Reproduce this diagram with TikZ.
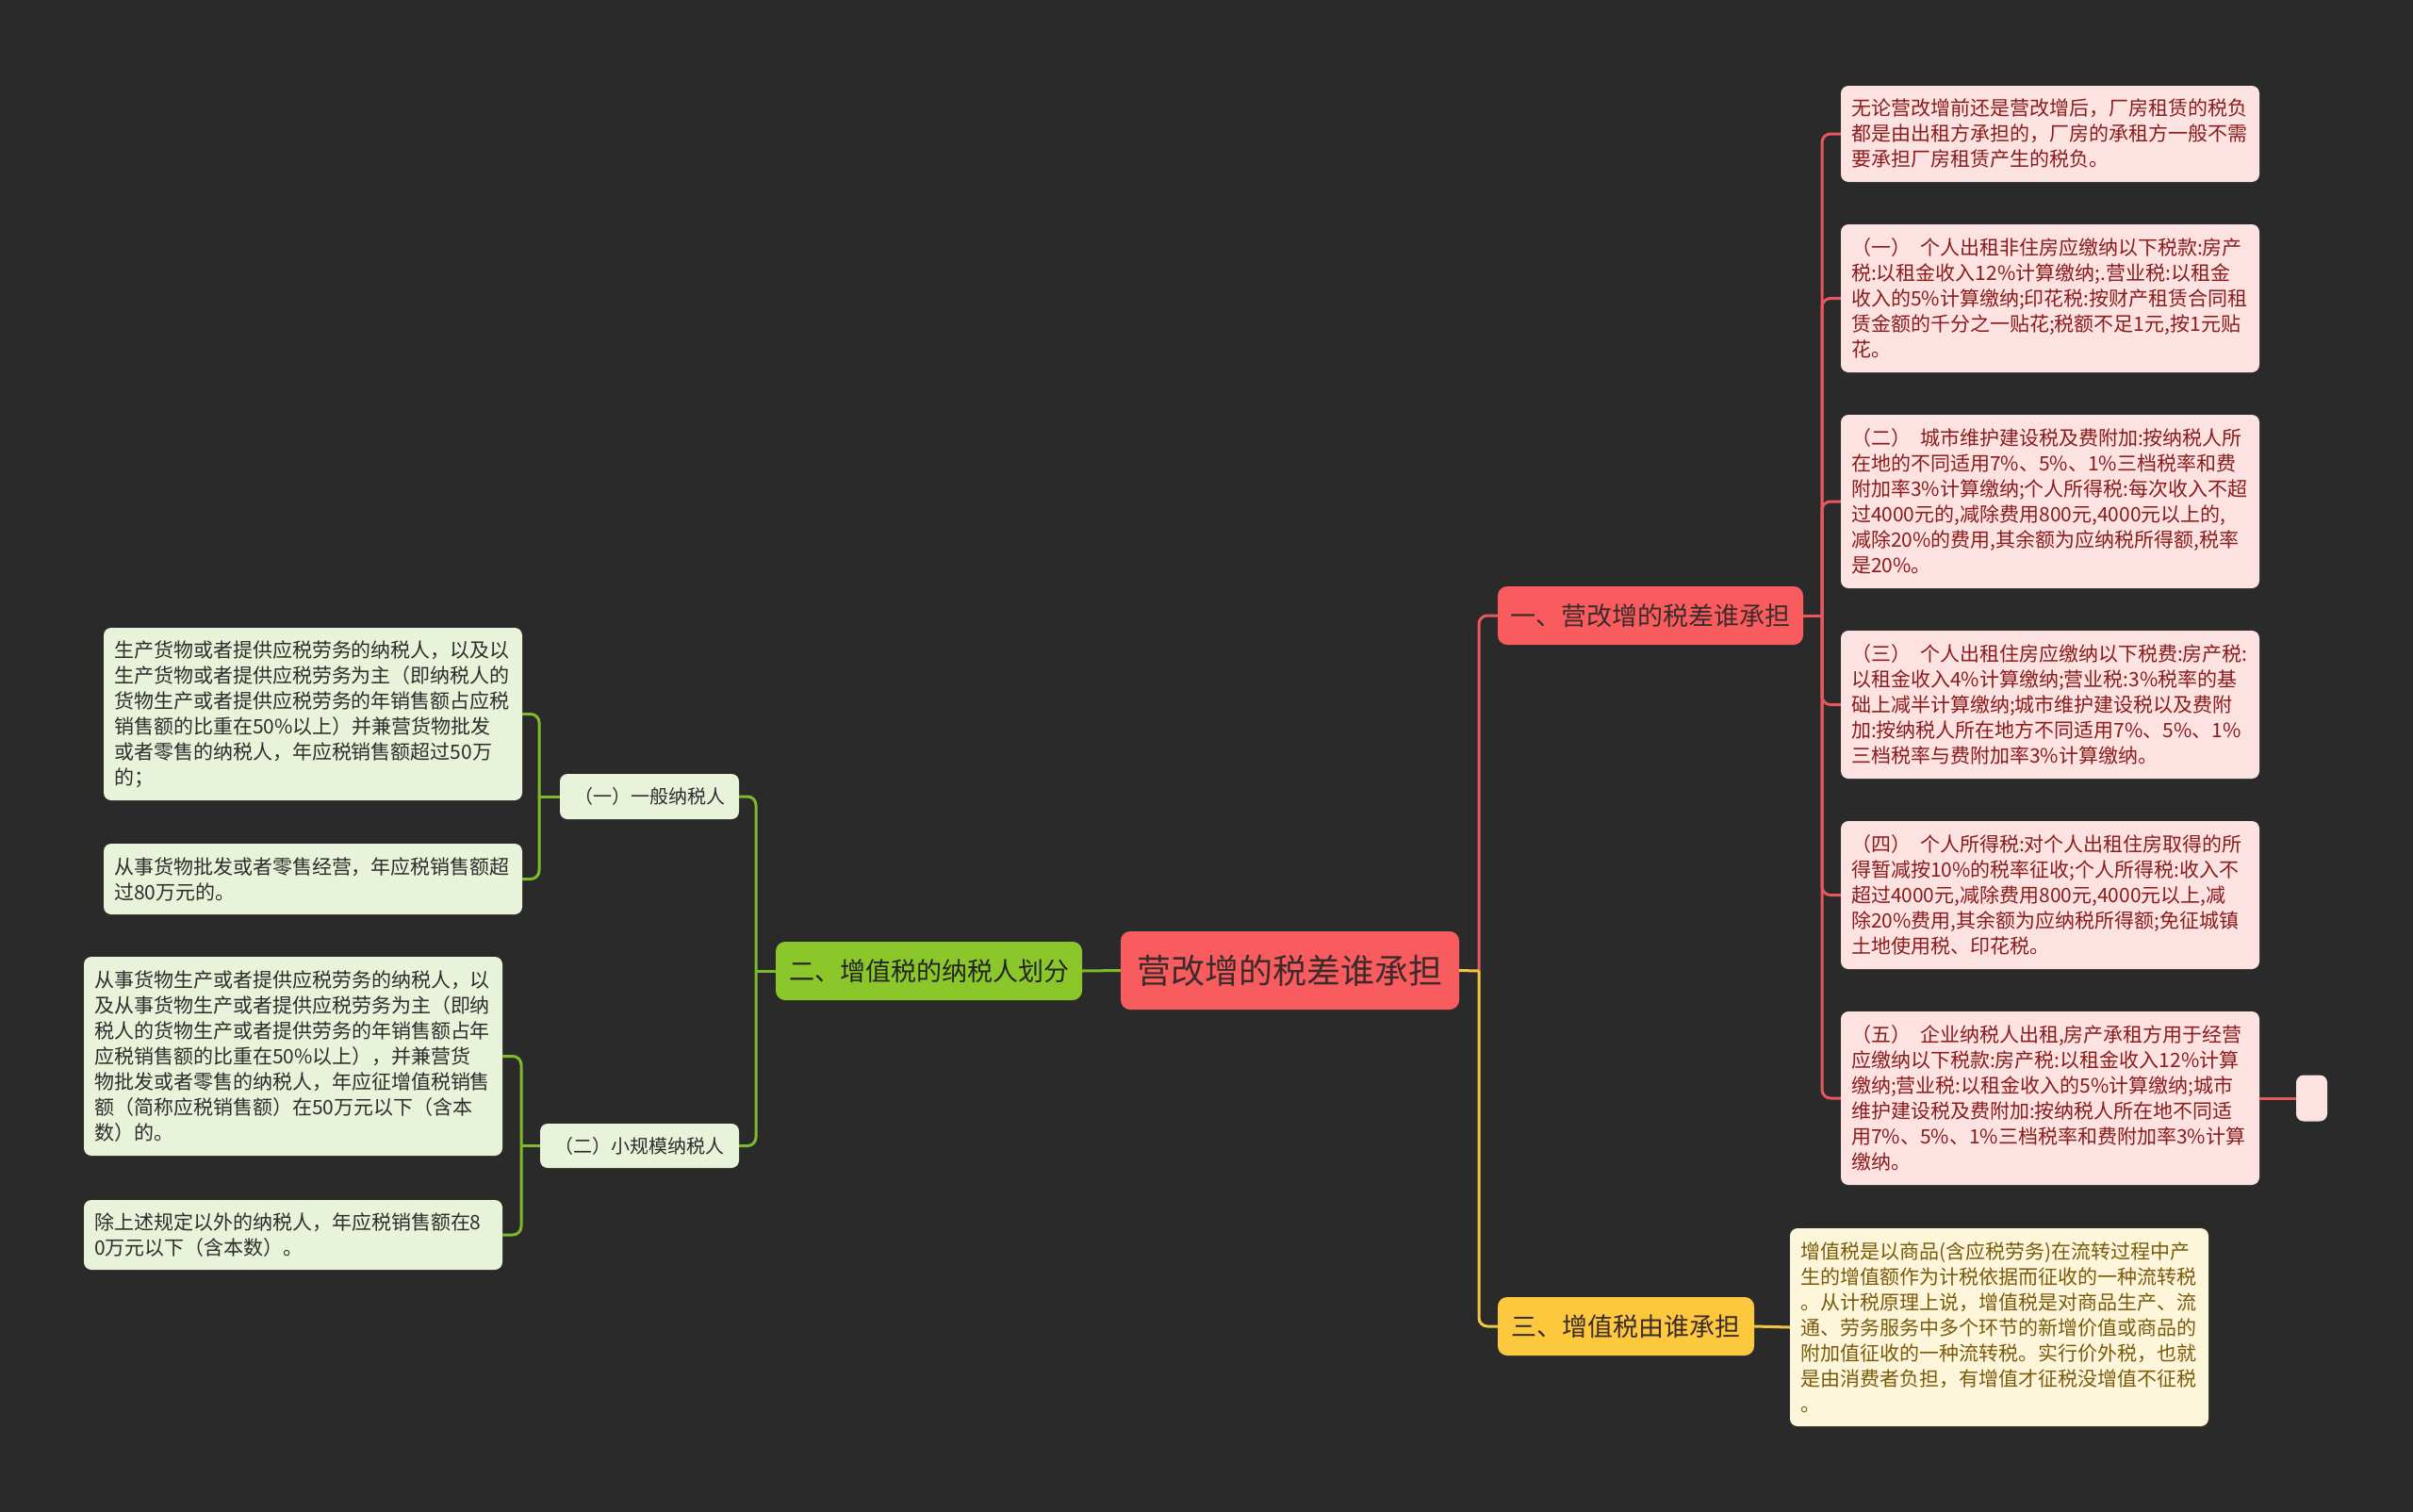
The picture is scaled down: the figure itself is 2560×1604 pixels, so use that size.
\documentclass[tikz,border=0pt]{standalone}
\usepackage{fontspec}
\newfontfamily\cjk{Noto Sans CJK SC}
\definecolor{bgc}{HTML}{2A2A2A}
\definecolor{redmain}{HTML}{F95C5F}
\definecolor{redline}{HTML}{E8575C}
\definecolor{pinkleaf}{HTML}{FDE2E2}
\definecolor{pinktext}{HTML}{8A1C1C}
\definecolor{greenmain}{HTML}{8BC72B}
\definecolor{greenline}{HTML}{7DBB2A}
\definecolor{greenleaf}{HTML}{E9F3DA}
\definecolor{greentext}{HTML}{2D2D2D}
\definecolor{yellowmain}{HTML}{FCC93E}
\definecolor{yellowline}{HTML}{F2C440}
\definecolor{yellowleaf}{HTML}{FEF6DA}
\definecolor{yellowtext}{HTML}{7A5B0C}
\definecolor{maintext}{HTML}{3D2B2B}
\begin{document}
\begin{tikzpicture}[x=1pt,y=-1pt,
  base/.style={inner sep=0pt, rounded corners=8pt, font=\cjk},
  mainbox/.style={base, rounded corners=10pt, minimum height=62, align=center,
    font=\cjk\fontsize{27}{32}\selectfont},
  leafbox/.style={base, inner xsep=11pt, text width=422pt, align=left,
    font=\cjk\fontsize{21}{27}\selectfont},
  pleaf/.style={leafbox, fill=pinkleaf, text=pinktext},
  gleaf/.style={leafbox, fill=greenleaf, text=greentext},
  yleaf/.style={leafbox, fill=yellowleaf, text=yellowtext},
  gsub/.style={base, fill=greenleaf, text=greentext, minimum height=48, align=center,
    font=\cjk\fontsize{20}{24}\selectfont},
  rl/.style={draw=redline, line width=3pt, rounded corners=9pt},
  gl/.style={draw=greenline, line width=3pt, rounded corners=9pt},
  yl/.style={draw=yellowline, line width=3pt, rounded corners=9pt}
]
\useasboundingbox (0,0) rectangle (2560,1604);
\fill[bgc] (0,0) rectangle (2560,1604);

% central
\node[base, rounded corners=10pt, fill=redmain, text=maintext, minimum width=359, minimum height=83,
  font=\cjk\fontsize{36}{40}\selectfont] (c) at (1368.5,1029.5) {营改增的税差谁承担};

% main branches
\node[mainbox, fill=greenmain, text=greentext!80!black, minimum width=325] (g0) at (985.5,1030) {二、增值税的纳税人划分};
\node[mainbox, fill=redmain, text=maintext, minimum width=324] (r0) at (1751,653) {一、营改增的税差谁承担};
\node[mainbox, fill=yellowmain, text=maintext, minimum width=272] (y0) at (1725,1407) {三、增值税由谁承担};

% green subs
\node[gsub, minimum width=190] (ga) at (689,845) {（一）一般纳税人};
\node[gsub, minimum width=211, minimum height=47] (gb) at (678.5,1215.5) {（二）小规模纳税人};

% green leaves
\node[gleaf, minimum height=183] (gl1) at (332,757.5) {生产货物或者提供应税劳务的纳税人，以及以\\生产货物或者提供应税劳务为主（即纳税人的\\货物生产或者提供应税劳务的年销售额占应税\\销售额的比重在50\%以上）并兼营货物批发\\或者零售的纳税人，年应税销售额超过50万\\的；};
\node[gleaf, minimum height=75] (gl2) at (332,932.5) {从事货物批发或者零售经营，年应税销售额超\\过80万元的。};
\node[gleaf, minimum height=211] (gl3) at (311,1120.5) {从事货物生产或者提供应税劳务的纳税人，以\\及从事货物生产或者提供应税劳务为主（即纳\\税人的货物生产或者提供劳务的年销售额占年\\应税销售额的比重在50\%以上），并兼营货\\物批发或者零售的纳税人，年应征增值税销售\\额（简称应税销售额）在50万元以下（含本\\数）的。};
\node[gleaf, minimum height=74] (gl4) at (311,1310) {除上述规定以外的纳税人，年应税销售额在8\\0万元以下（含本数）。};

% pink leaves
\node[pleaf, minimum height=102] (p1) at (2175,142) {无论营改增前还是营改增后，厂房租赁的税负\\都是由出租方承担的，厂房的承租方一般不需\\要承担厂房租赁产生的税负。};
\node[pleaf, minimum height=157] (p2) at (2175,316.5) {（一）\kern10pt 个人出租非住房应缴纳以下税款:房产\\税:以租金收入12\%计算缴纳;.营业税:以租金\\收入的5\%计算缴纳;印花税:按财产租赁合同租\\赁金额的千分之一贴花;税额不足1元,按1元贴\\花。};
\node[pleaf, minimum height=184] (p3) at (2175,532) {（二）\kern10pt 城市维护建设税及费附加:按纳税人所\\在地的不同适用7\%、5\%、1\%三档税率和费\\附加率3\%计算缴纳;个人所得税:每次收入不超\\过4000元的,减除费用800元,4000元以上的,\\减除20\%的费用,其余额为应纳税所得额,税率\\是20\%。};
\node[pleaf, minimum height=157] (p4) at (2175,747.5) {（三）\kern10pt 个人出租住房应缴纳以下税费:房产税:\\以租金收入4\%计算缴纳;营业税:3\%税率的基\\础上减半计算缴纳;城市维护建设税以及费附\\加:按纳税人所在地方不同适用7\%、5\%、1\%\\三档税率与费附加率3\%计算缴纳。};
\node[pleaf, minimum height=157] (p5) at (2175,949.5) {（四）\kern10pt 个人所得税:对个人出租住房取得的所\\得暂减按10\%的税率征收;个人所得税:收入不\\超过4000元,减除费用800元,4000元以上,减\\除20\%费用,其余额为应纳税所得额;免征城镇\\土地使用税、印花税。};
\node[pleaf, minimum height=184] (p6) at (2175,1165) {（五）\kern10pt 企业纳税人出租,房产承租方用于经营\\应缴纳以下税款:房产税:以租金收入12\%计算\\缴纳;营业税:以租金收入的5\%计算缴纳;城市\\维护建设税及费附加:按纳税人所在地不同适\\用7\%、5\%、1\%三档税率和费附加率3\%计算\\缴纳。};
\node[base, fill=pinkleaf, minimum width=33, minimum height=49] (pe) at (2452.5,1165) {};

% yellow leaf
\node[yleaf, minimum height=210] (y1) at (2121,1408) {增值税是以商品(含应税劳务)在流转过程中产\\生的增值额作为计税依据而征收的一种流转税\\。从计税原理上说，增值税是对商品生产、流\\通、劳务服务中多个环节的新增价值或商品的\\附加值征收的一种流转税。实行价外税，也就\\是由消费者负担，有增值才征税没增值不征税\\。};

% trunk points
\coordinate (gt) at (802,1030);
\coordinate (gat) at (572,845);
\coordinate (gbt) at (553,1215.5);
\coordinate (ct) at (1569,1030);
\coordinate (rt) at (1933,653);

% green connectors
\draw[gl] (c.west) -- (g0.east);
\draw[gl] (g0.west) -- (gt);
\draw[gl] (gt) |- (ga.east);
\draw[gl] (gt) |- (gb.east);
\draw[gl] (ga.west) -- (gat);
\draw[gl] (gat) |- (gl1.east);
\draw[gl] (gat) |- (gl2.east);
\draw[gl] (gb.west) -- (gbt);
\draw[gl] (gbt) |- (gl3.east);
\draw[gl] (gbt) |- (gl4.east);

% red connectors
\draw[rl] (ct) |- (r0.west);
\draw[rl] (r0.east) -- (rt);
\foreach \p in {p1,p2,p3,p4,p5,p6} { \draw[rl] (rt) |- (\p.west); }
\draw[rl] (p6.east) -- (pe.west);

% yellow connectors
\draw[yl] (c.east) -- (ct);
\draw[yl] (ct) |- (y0.west);
\draw[yl] (y0.east) -- (y1.west);
\end{tikzpicture}
\end{document}
